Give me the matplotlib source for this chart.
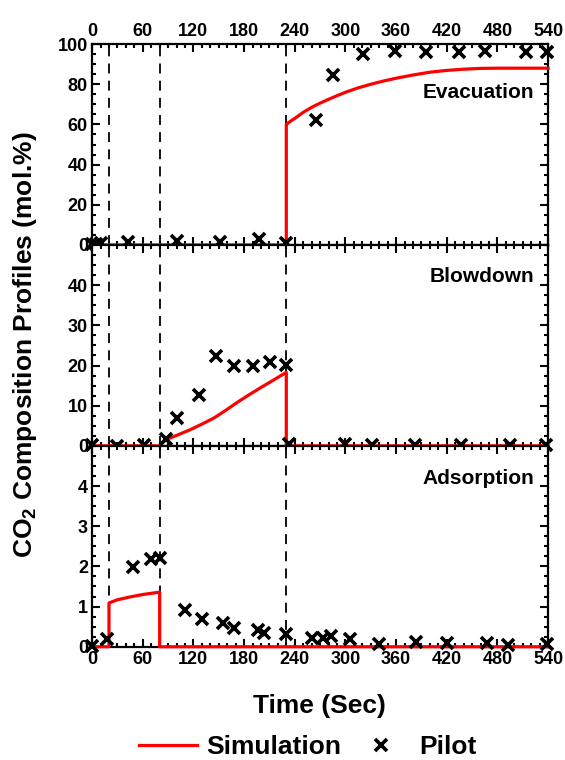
import matplotlib
matplotlib.use("Agg")
import matplotlib.pyplot as plt
from matplotlib.ticker import MultipleLocator

plt.rcParams['font.family'] = ['Liberation Sans', 'DejaVu Sans']
plt.rcParams['font.weight'] = 'bold'
plt.rcParams['mathtext.fontset'] = 'custom'
plt.rcParams['mathtext.bf'] = 'Liberation Sans:bold'
plt.rcParams['mathtext.rm'] = 'Liberation Sans:bold'

# ---- data ----
step_times = [20, 80, 230]
x_ticks = [0, 60, 120, 180, 240, 300, 360, 420, 480, 540]

# Evacuation
evac_pilot_x = [0, 5, 10, 43, 101, 151, 198, 230, 265, 285, 321, 359, 396, 434, 465, 514, 539]
evac_pilot_y = [0.5, 0.5, 0.8, 1.5, 2.0, 1.3, 3.0, 1.0, 62.3, 84.5, 95, 96.5, 96, 96, 96.5, 96, 96]
evac_sim_x = [0, 230, 230, 235, 240, 250, 260, 270, 280, 290, 300, 315, 330, 345, 360, 380, 400, 420, 440, 460, 480, 540]
evac_sim_y = [0, 0, 60, 61.6, 63, 66, 68.5, 70.6, 72.5, 74.3, 76, 78.2, 80, 81.6, 83, 84.6, 86, 86.9, 87.5, 87.9, 88, 88]

# Blowdown
blow_pilot_x = [0, 30, 61, 88, 100, 127, 147, 168, 191, 211, 230, 233, 300, 332, 382, 437, 495, 538]
blow_pilot_y = [0.3, 0, 0.3, 1.7, 6.9, 12.7, 22.3, 19.8, 19.8, 20.8, 20.2, 0.5, 0.4, 0.1, 0.1, 0.1, 0.1, 0.1]
blow_sim_x = [0, 80, 84, 88, 100, 116, 130, 144, 158, 171, 185, 199, 215, 230, 230, 540]
blow_sim_y = [0, 0, 0.9, 1.6, 2.6, 4.0, 5.4, 6.9, 8.8, 10.7, 12.6, 14.4, 16.4, 18.3, 0, 0]

# Adsorption
ads_pilot_x = [0, 18, 48, 70, 80, 110, 130, 155, 168, 197, 204, 230, 260, 273, 283, 305, 340, 384, 420, 468, 493, 539]
ads_pilot_y = [0.02, 0.19, 1.98, 2.19, 2.22, 0.91, 0.68, 0.58, 0.47, 0.41, 0.34, 0.33, 0.22, 0.23, 0.26, 0.19,
               0.08, 0.12, 0.10, 0.10, 0.05, 0.07]
ads_sim_x = [0, 20, 20, 30, 45, 60, 80, 80, 540]
ads_sim_y = [0, 0, 1.09, 1.17, 1.24, 1.30, 1.36, 0, 0]

panels = [
    ("Evacuation", evac_sim_x, evac_sim_y, evac_pilot_x, evac_pilot_y, 100, 5, [0, 20, 40, 60, 80, 100], 0.76),
    ("Blowdown", blow_sim_x, blow_sim_y, blow_pilot_x, blow_pilot_y, 50, 2.5, [0, 10, 20, 30, 40], 0.845),
    ("Adsorption", ads_sim_x, ads_sim_y, ads_pilot_x, ads_pilot_y, 5, 0.25, [0, 1, 2, 3, 4], 0.84),
]

fig = plt.figure(figsize=(5.65, 7.6), dpi=100)
gs = fig.add_gridspec(3, 1, left=0.163, right=0.970, top=0.942, bottom=0.149, hspace=0)
axes = [fig.add_subplot(gs[i]) for i in range(3)]

for i, (ax, (name, sx, sy, px, py, ymax, ymin, yt, ty)) in enumerate(zip(axes, panels)):
    for t in step_times:
        ax.axvline(t, color='black', lw=1.3, dashes=(5.5, 4), zorder=1)
    sim_line, = ax.plot(sx, sy, color='red', lw=2.3, zorder=3, clip_on=False, label='Simulation')
    pilot, = ax.plot(px, py, ls='none', marker='x', ms=9, mew=2.6, color='black', zorder=4,
                     clip_on=False, label='Pilot')
    ax.set_xlim(0, 540)
    ax.set_ylim(0, ymax)
    ax.set_xticks(x_ticks)
    ax.xaxis.set_minor_locator(MultipleLocator(10))
    ax.set_yticks(yt)
    ax.yaxis.set_minor_locator(MultipleLocator(ymin))
    ax.tick_params(which='both', direction='in', top=True, right=True, width=1.5)
    ax.tick_params(which='major', length=6, labelsize=13)
    ax.tick_params(which='minor', length=3)
    ax.tick_params(axis='x', labelbottom=(i == 2), labeltop=(i == 0), pad=3)
    ax.tick_params(axis='y', pad=3)
    for s in ax.spines.values():
        s.set_linewidth(1.6)
    for lab in ax.get_xticklabels() + ax.get_yticklabels():
        lab.set_fontweight('bold')
    ax.text(0.97, ty, name, transform=ax.transAxes, ha='right', va='center', fontsize=15, fontweight='bold')

fig.text(0.044, 0.546, 'CO$_\\mathbf{2}$ Composition Profiles (mol.%)', rotation=90, ha='center', va='center',
         fontsize=19, fontweight='bold')
fig.text(0.566, 0.071, 'Time (Sec)', ha='center', va='center', fontsize=19, fontweight='bold')

leg = fig.legend(handles=[sim_line, pilot], loc='center', bbox_to_anchor=(0.545, 0.017), ncol=2, frameon=False,
                 prop={'size': 19, 'weight': 'bold'}, handlelength=2.2, columnspacing=0.4, handletextpad=0.35,
                 borderpad=0, borderaxespad=0)

fig.savefig('out.png', dpi=100)
